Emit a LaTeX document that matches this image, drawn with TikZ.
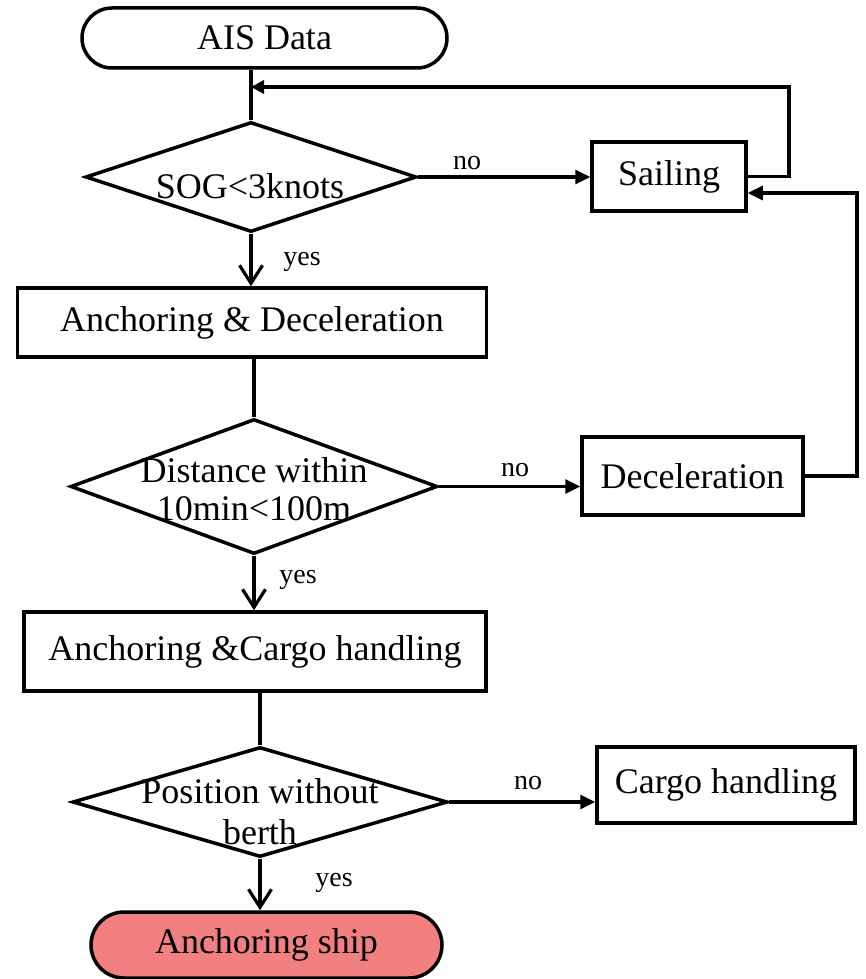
\documentclass[tikz,border=0pt]{standalone}
\usepackage{fontspec}
\setmainfont{Liberation Serif}
\usetikzlibrary{shapes.geometric,shapes.misc,arrows.meta}
\definecolor{shipred}{RGB}{242,128,128}
\newcommand{\bigf}{\fontsize{36}{38}\selectfont}
\newcommand{\smallf}{\fontsize{28}{30}\selectfont}
\begin{document}
\begin{tikzpicture}[x=1pt,y=-1pt,
  boxst/.style={draw, line width=3.5pt, rectangle, inner sep=0pt, font=\bigf},
  termst/.style={draw, line width=3.5pt, rounded rectangle, inner sep=0pt, font=\bigf},
  diast/.style={draw, line width=3.5pt, diamond, inner sep=0pt},
  lbl/.style={font=\smallf, inner sep=0pt},
  dtext/.style={align=center, inner sep=0pt},
  conn/.style={line width=3.2pt},
  noarr/.style={conn, -{Triangle[length=15pt,width=14pt]}},
  fbarr/.style={conn, -{Triangle[length=13pt,width=13pt]}},
  yesarr/.style={conn, -{Straight Barb[length=18pt,width=23pt,line width=3.2pt]}},
]
\useasboundingbox (0,0) rectangle (866,979);

% nodes
\node[termst, minimum width=365pt, minimum height=60pt] (ais) at (264.5,38) {AIS Data};
\node[diast, minimum width=331pt, minimum height=110pt] (d1) at (251,177) {};
\node[dtext, font=\bigf] (t1) at (250,186) {SOG<3knots};
\node[boxst, minimum width=154pt, minimum height=69pt] (sail) at (669,176.5) {Sailing};
\node[boxst, minimum width=469pt, minimum height=69pt] (b1) at (252,322.5) {Anchoring \& Deceleration};
\node[diast, minimum width=367pt, minimum height=135pt] (d2) at (254,486.5) {};
\node[dtext, font=\fontsize{36}{38}\selectfont] (t2) at (254,489) {Distance within\\10min<100m};
\node[boxst, minimum width=221pt, minimum height=78pt] (dec) at (692.5,476) {Deceleration};
\node[boxst, minimum width=462pt, minimum height=79pt] (b2) at (255,651.5) {Anchoring \&Cargo handling};
\node[diast, minimum width=375pt, minimum height=110pt] (d3) at (260,802) {};
\node[dtext, font=\fontsize{36}{41}\selectfont] (t3) at (260,812) {Position without\\berth};
\node[boxst, minimum width=258pt, minimum height=76pt] (cargo) at (726,785) {Cargo handling};
\node[termst, fill=shipred, minimum width=351pt, minimum height=66pt] (ship) at (266.5,945) {Anchoring ship};

% labels
\node[lbl] (no1) at (467,163) {no};
\node[lbl] (no2) at (515,470) {no};
\node[lbl] (no3) at (528,783) {no};
\node[lbl] (yes1) at (302,262) {yes};
\node[lbl] (yes2) at (298,580) {yes};
\node[lbl] (yes3) at (334,883) {yes};

% helper coordinates
\coordinate (fbin) at (251,87);
\coordinate (fbc) at (789,87);
\coordinate (fb2c) at (857,193);

% main flow
\draw[conn] (ais.south -| d1.north) -- (d1.north);
\draw[yesarr] (d1.south) -- (d1.south |- b1.north);
\draw[conn] (b1.south -| d2.north) -- (d2.north);
\draw[yesarr] (d2.south) -- (d2.south |- b2.north);
\draw[conn] (b2.south -| d3.north) -- (d3.north);
\draw[yesarr] (d3.south) -- (d3.south |- ship.north);

% no branches
\draw[noarr] (d1.east) -- (d1.east -| sail.west);
\draw[noarr] (d2.east) -- (d2.east -| dec.west);
\draw[noarr] (d3.east) -- (d3.east -| cargo.west);

% feedback loops
\draw[fbarr] (sail.east) -| (fbc) -- (fbin);
\draw[noarr] (dec.east) -| (fb2c) -- (sail.east |- fb2c);
\end{tikzpicture}
\end{document}
